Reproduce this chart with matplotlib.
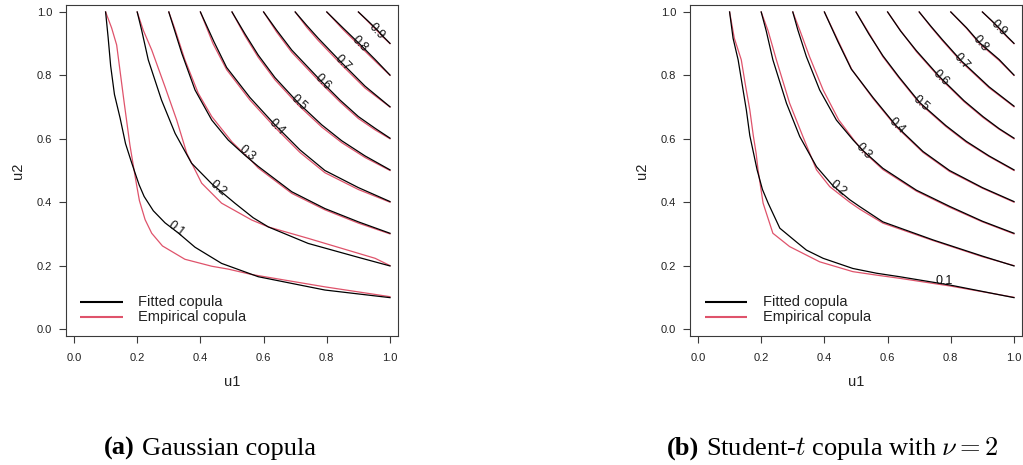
import numpy as np
import matplotlib
matplotlib.use('Agg')
import matplotlib.pyplot as plt

plt.rcParams['font.family'] = ['Liberation Sans', 'DejaVu Sans']
plt.rcParams['mathtext.fontset'] = 'cm'

levels = [0.1, 0.2, 0.3, 0.4, 0.5, 0.6, 0.7, 0.8, 0.9]

# contour lines, level -> (u1, u2)
gauss_fitted = {
    0.1: ([0.10, 0.108, 0.116, 0.128, 0.146, 0.163, 0.180, 0.193, 0.206, 0.222, 0.251, 0.288, 0.330, 0.383, 0.467, 0.583, 0.794, 1.00],
          [1.00, 0.920, 0.830, 0.740, 0.665, 0.585, 0.532, 0.493, 0.455, 0.418, 0.373, 0.335, 0.303, 0.258, 0.207, 0.165, 0.123, 0.099]),
    0.2: ([0.20, 0.214, 0.235, 0.277, 0.320, 0.372, 0.436, 0.509, 0.567, 0.615, 0.741, 0.900, 1.00],
          [1.00, 0.943, 0.849, 0.722, 0.617, 0.523, 0.458, 0.397, 0.351, 0.322, 0.270, 0.226, 0.199]),
    0.3: ([0.30, 0.341, 0.383, 0.436, 0.488, 0.541, 0.583, 0.689, 0.794, 0.900, 1.00],
          [1.00, 0.870, 0.754, 0.659, 0.596, 0.548, 0.513, 0.433, 0.380, 0.338, 0.302]),
    0.4: ([0.40, 0.443, 0.483, 0.557, 0.636, 0.715, 0.794, 0.900, 1.00],
          [1.00, 0.906, 0.825, 0.730, 0.644, 0.565, 0.500, 0.446, 0.402]),
    0.5: ([0.50, 0.541, 0.583, 0.636, 0.710, 0.784, 0.847, 0.921, 1.00],
          [1.00, 0.931, 0.864, 0.793, 0.713, 0.644, 0.594, 0.546, 0.502]),
    0.6: ([0.60, 0.641, 0.689, 0.784, 0.842, 0.900, 0.953, 1.00],
          [1.00, 0.943, 0.880, 0.780, 0.722, 0.670, 0.633, 0.602]),
    0.7: ([0.70, 0.737, 0.773, 0.847, 0.921, 1.00],
          [1.00, 0.957, 0.917, 0.840, 0.766, 0.701]),
    0.8: ([0.80, 0.852, 0.905, 0.953, 1.00],
          [1.00, 0.949, 0.898, 0.850, 0.801]),
    0.9: ([0.90, 0.931, 0.958, 0.979, 1.00],
          [1.00, 0.971, 0.945, 0.922, 0.901]),
}

gauss_empirical = {
    0.1: ([0.10, 0.119, 0.135, 0.146, 0.158, 0.177, 0.190, 0.198, 0.207, 0.225, 0.246, 0.280, 0.351, 0.436, 0.488, 0.562, 0.794, 1.00],
          [1.00, 0.950, 0.896, 0.812, 0.720, 0.580, 0.502, 0.455, 0.405, 0.345, 0.302, 0.262, 0.220, 0.198, 0.189, 0.172, 0.133, 0.102]),
    0.2: ([0.20, 0.219, 0.246, 0.288, 0.325, 0.357, 0.404, 0.467, 0.562, 0.615, 0.741, 0.953, 1.00],
          [1.00, 0.943, 0.880, 0.764, 0.659, 0.554, 0.460, 0.397, 0.344, 0.322, 0.286, 0.223, 0.200]),
    0.3: ([0.30, 0.318, 0.351, 0.393, 0.436, 0.500, 0.562, 0.583, 0.689, 0.794, 0.900, 1.00],
          [1.00, 0.950, 0.849, 0.744, 0.670, 0.590, 0.530, 0.508, 0.428, 0.376, 0.334, 0.300]),
    0.4: ([0.40, 0.440, 0.483, 0.557, 0.636, 0.715, 0.794, 0.900, 1.00],
          [1.00, 0.900, 0.818, 0.722, 0.636, 0.557, 0.493, 0.440, 0.400]),
    0.5: ([0.50, 0.541, 0.583, 0.636, 0.710, 0.784, 0.847, 0.921, 1.00],
          [1.00, 0.925, 0.857, 0.786, 0.706, 0.637, 0.588, 0.541, 0.500]),
    0.6: ([0.60, 0.641, 0.689, 0.784, 0.842, 0.900, 0.953, 1.00],
          [1.00, 0.937, 0.873, 0.773, 0.716, 0.664, 0.628, 0.600]),
    0.7: ([0.70, 0.737, 0.773, 0.847, 0.921, 1.00],
          [1.00, 0.951, 0.910, 0.833, 0.760, 0.700]),
    0.8: ([0.80, 0.852, 0.905, 0.953, 1.00],
          [1.00, 0.944, 0.892, 0.845, 0.800]),
    0.9: ([0.90, 0.931, 0.958, 0.979, 1.00],
          [1.00, 0.969, 0.942, 0.920, 0.900]),
}

t_fitted = {
    0.1: ([0.10, 0.111, 0.127, 0.140, 0.153, 0.164, 0.176, 0.187, 0.204, 0.222, 0.259, 0.311, 0.343, 0.396, 0.490, 0.565, 0.638, 0.796, 1.00],
          [1.00, 0.917, 0.849, 0.770, 0.691, 0.610, 0.554, 0.502, 0.440, 0.397, 0.318, 0.275, 0.249, 0.223, 0.191, 0.176, 0.165, 0.139, 0.099]),
    0.2: ([0.20, 0.216, 0.237, 0.280, 0.322, 0.375, 0.427, 0.480, 0.512, 0.585, 0.744, 0.900, 1.00],
          [1.00, 0.940, 0.849, 0.712, 0.607, 0.512, 0.452, 0.408, 0.386, 0.338, 0.281, 0.230, 0.199]),
    0.3: ([0.30, 0.316, 0.343, 0.385, 0.438, 0.491, 0.522, 0.585, 0.691, 0.796, 0.900, 1.00],
          [1.00, 0.943, 0.859, 0.754, 0.659, 0.596, 0.563, 0.507, 0.438, 0.387, 0.340, 0.302]),
    0.4: ([0.40, 0.443, 0.485, 0.554, 0.628, 0.712, 0.796, 0.900, 1.00],
          [1.00, 0.906, 0.820, 0.730, 0.640, 0.560, 0.500, 0.446, 0.402]),
    0.5: ([0.50, 0.541, 0.585, 0.636, 0.702, 0.784, 0.849, 0.921, 1.00],
          [1.00, 0.930, 0.862, 0.795, 0.714, 0.642, 0.592, 0.546, 0.502]),
    0.6: ([0.60, 0.641, 0.691, 0.765, 0.842, 0.902, 0.953, 1.00],
          [1.00, 0.940, 0.878, 0.795, 0.720, 0.670, 0.632, 0.602]),
    0.7: ([0.70, 0.737, 0.773, 0.834, 0.921, 1.00],
          [1.00, 0.955, 0.913, 0.845, 0.764, 0.703]),
    0.8: ([0.80, 0.850, 0.891, 0.953, 1.00],
          [1.00, 0.950, 0.903, 0.850, 0.801]),
    0.9: ([0.90, 0.931, 0.955, 0.979, 1.00],
          [1.00, 0.971, 0.947, 0.922, 0.901]),
}

t_empirical = {
    0.1: ([0.10, 0.115, 0.137, 0.150, 0.164, 0.175, 0.184, 0.190, 0.206, 0.237, 0.290, 0.385, 0.490, 0.565, 0.638, 0.796, 1.00],
          [1.00, 0.917, 0.849, 0.770, 0.691, 0.610, 0.554, 0.502, 0.397, 0.302, 0.260, 0.212, 0.181, 0.170, 0.160, 0.136, 0.100]),
    0.2: ([0.20, 0.222, 0.248, 0.290, 0.332, 0.375, 0.417, 0.480, 0.512, 0.585, 0.744, 0.900, 1.00],
          [1.00, 0.940, 0.849, 0.712, 0.607, 0.502, 0.449, 0.400, 0.378, 0.334, 0.279, 0.228, 0.200]),
    0.3: ([0.30, 0.322, 0.353, 0.396, 0.445, 0.495, 0.522, 0.585, 0.691, 0.796, 0.900, 1.00],
          [1.00, 0.943, 0.859, 0.754, 0.660, 0.594, 0.561, 0.503, 0.435, 0.384, 0.338, 0.300]),
    0.4: ([0.40, 0.445, 0.487, 0.554, 0.628, 0.712, 0.796, 0.900, 1.00],
          [1.00, 0.906, 0.818, 0.727, 0.637, 0.557, 0.497, 0.444, 0.400]),
    0.5: ([0.50, 0.543, 0.585, 0.636, 0.702, 0.784, 0.849, 0.921, 1.00],
          [1.00, 0.930, 0.859, 0.792, 0.711, 0.639, 0.589, 0.544, 0.500]),
    0.6: ([0.60, 0.642, 0.691, 0.765, 0.842, 0.902, 0.953, 1.00],
          [1.00, 0.940, 0.875, 0.792, 0.717, 0.667, 0.630, 0.600]),
    0.7: ([0.70, 0.737, 0.773, 0.834, 0.921, 1.00],
          [1.00, 0.953, 0.910, 0.842, 0.761, 0.701]),
    0.8: ([0.80, 0.850, 0.891, 0.953, 1.00],
          [1.00, 0.948, 0.900, 0.847, 0.800]),
    0.9: ([0.90, 0.931, 0.955, 0.979, 1.00],
          [1.00, 0.970, 0.945, 0.920, 0.900]),
}

# where the level labels sit on the fitted lines
gauss_label_u1 = [0.323, 0.455, 0.548, 0.643, 0.710, 0.786, 0.849, 0.905, 0.958]
gauss_label_u2 = [0.316, 0.445, 0.553, 0.638, 0.715, 0.778, 0.840, 0.898, 0.940]
t_label_u1 = [0.778, 0.443, 0.524, 0.628, 0.704, 0.767, 0.834, 0.894, 0.953]
t_label_u2 = [0.150, 0.443, 0.562, 0.640, 0.712, 0.793, 0.845, 0.900, 0.948]

ticks = [0.0, 0.2, 0.4, 0.6, 0.8, 1.0]
fit_color = 'black'
emp_color = '#DF536B'
axis_color = '#3a3a3a'
text_color = '#222222'


def line_angle(ax, xs, ys, px, py):
    # angle of the nearest segment, measured on screen
    pts = ax.transData.transform(np.column_stack([xs, ys]))
    p = ax.transData.transform((px, py))
    mids = (pts[1:] + pts[:-1]) / 2
    i = np.argmin(np.hypot(*(mids - p).T))
    dx, dy = pts[i + 1] - pts[i]
    ang = np.degrees(np.arctan2(dy, dx))
    if ang > 90:
        ang -= 180
    if ang < -90:
        ang += 180
    return ang


def draw_panel(ax, fitted, empirical, lab_u1, lab_u2, leg_x, flat_first=False):
    ax.set_xlim(-0.0253, 1.0253)
    ax.set_ylim(-0.022, 1.022)
    for lev in levels:
        ax.plot(*empirical[lev], color=emp_color, lw=0.9, solid_joinstyle='round')
        ax.plot(*fitted[lev], color=fit_color, lw=0.9, solid_joinstyle='round')
    for k, lev in enumerate(levels):
        ang = line_angle(ax, *fitted[lev], lab_u1[k], lab_u2[k])
        if flat_first and k == 0:
            ang = 0
        ax.text(lab_u1[k], lab_u2[k], '%.1f' % lev, fontsize=9, color='#111111',
                rotation=ang, rotation_mode='anchor', ha='center', va='center')

    ax.set_xticks(ticks)
    ax.set_yticks(ticks)
    ax.set_xticklabels(['%.1f' % t for t in ticks])
    ax.set_yticklabels(['%.1f' % t for t in ticks])
    ax.tick_params(direction='out', length=5, width=0.8, color=axis_color,
                   labelsize=8, labelcolor=text_color)
    ax.tick_params(axis='x', pad=7)
    ax.tick_params(axis='y', pad=5)
    for s in ax.spines.values():
        s.set_color(axis_color)
        s.set_linewidth(0.8)
    ax.text(0.5, -0.138, 'u1', transform=ax.transAxes, ha='center', va='center',
            fontsize=10.5, color=text_color)
    ax.text(-0.145, 0.5, 'u2', transform=ax.transAxes, ha='center', va='center',
            rotation=90, fontsize=10.5, color=text_color)

    # legend, bottom left
    for yy, col, lab in [(0.1036, fit_color, 'Fitted copula'),
                         (0.0583, emp_color, 'Empirical copula')]:
        ax.plot([leg_x[0], leg_x[1]], [yy, yy], color=col, lw=1.5,
                transform=ax.transAxes, solid_capstyle='butt')
        ax.text(leg_x[2], yy, lab, transform=ax.transAxes, ha='left', va='center',
                fontsize=10.5, color=text_color)


def caption(fig, xc, bold, rest):
    r = fig.canvas.get_renderer()
    y = 0.022
    t1 = fig.text(0, y, bold, fontsize=19, weight='bold', family='Liberation Serif',
                  va='baseline')
    t2 = fig.text(0, y, rest, fontsize=19, family='Liberation Serif', va='baseline')
    w1 = t1.get_window_extent(r).width
    w2 = t2.get_window_extent(r).width
    gap = 19 * 100 / 72 * 0.25
    W = fig.bbox.width
    x0 = xc * W - (w1 + gap + w2) / 2
    t1.set_x(x0 / W)
    t2.set_x((x0 + w1 + gap) / W)


fig = plt.figure(figsize=(10.23, 4.65), dpi=100)
ax_a = fig.add_axes([66 / 1023, 1 - 336 / 465, 332 / 1023, 331 / 465])
ax_b = fig.add_axes([690 / 1023, 1 - 336 / 465, 332 / 1023, 331 / 465])

draw_panel(ax_a, gauss_fitted, gauss_empirical, gauss_label_u1, gauss_label_u2,
           (0.042, 0.172, 0.217))
draw_panel(ax_b, t_fitted, t_empirical, t_label_u1, t_label_u2,
           (0.045, 0.171, 0.22), flat_first=True)

caption(fig, 0.2053, '(a)', 'Gaussian copula')
caption(fig, 0.8143, '(b)', r'Student-$t$ copula with $\nu = 2$')

fig.savefig('out.png', dpi=100)
